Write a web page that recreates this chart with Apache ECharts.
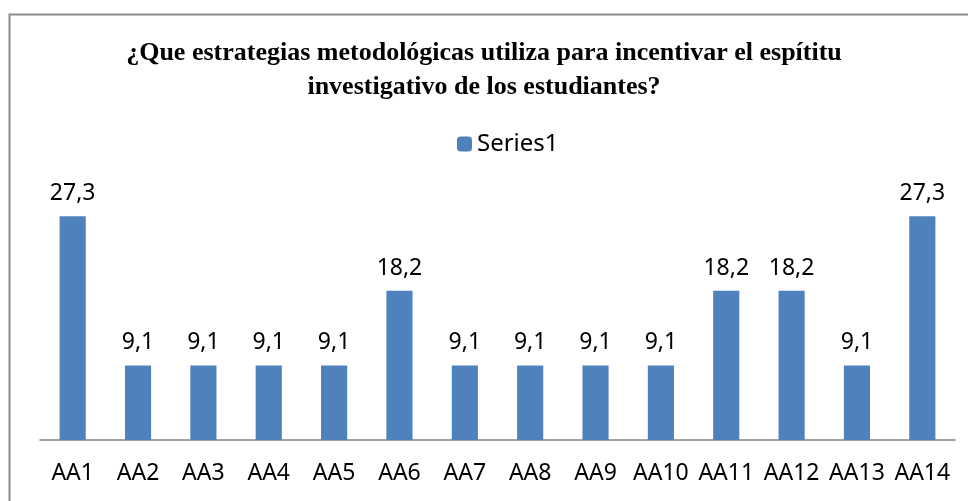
<!DOCTYPE html>
<html>
<head>
<meta charset="utf-8">
<script src="https://cdn.jsdelivr.net/npm/echarts@6/dist/echarts.min.js"></script>
<style>
  html, body { margin: 0; padding: 0; background: #fff; }
  #chart { width: 968px; height: 501px; }
</style>
</head>
<body>
<div id="chart"></div>
<script>
// datos
const categories = ['AA1', 'AA2', 'AA3', 'AA4', 'AA5', 'AA6', 'AA7', 'AA8', 'AA9', 'AA10', 'AA11', 'AA12', 'AA13', 'AA14'];
const series1 = [27.3, 9.1, 9.1, 9.1, 9.1, 18.2, 9.1, 9.1, 9.1, 9.1, 18.2, 18.2, 9.1, 27.3];
const seriesName = 'Series1';
const titleText = '¿Que estrategias metodológicas utiliza para incentivar el espítitu\ninvestigativo de los estudiantes?';

const chart = echarts.init(document.getElementById('chart'));

const option = {
  animation: false,
  title: {
    text: titleText,
    left: 'center',
    top: 31,
    textStyle: {
      fontFamily: 'Liberation Serif',
      fontWeight: 'bold',
      fontSize: 26,
      lineHeight: 34,
      color: '#000'
    }
  },
  legend: {
    data: [seriesName],
    top: 127,
    left: 452,
    itemWidth: 15,
    itemHeight: 15,
    itemGap: 8,
    textStyle: { fontFamily: 'Noto Sans', fontSize: 24, color: '#000' }
  },
  grid: { left: 40, right: 13, top: 194, bottom: 61 },
  xAxis: {
    type: 'category',
    data: categories,
    axisLine: { lineStyle: { color: '#868686', width: 1.5 } },
    axisTick: { show: false },
    axisLabel: {
      interval: 0,
      margin: 22,
      fontFamily: 'Noto Sans',
      fontSize: 23,
      color: '#000'
    }
  },
  yAxis: {
    type: 'value',
    min: 0,
    max: 30,
    show: false,
    splitLine: { show: false }
  },
  series: [{
    name: seriesName,
    type: 'bar',
    data: series1,
    barWidth: '40%',
    itemStyle: { color: '#4F81BD' },
    label: {
      show: true,
      position: 'top',
      distance: 11,
      fontFamily: 'Noto Sans',
      fontSize: 23,
      color: '#000',
      formatter: p => String(p.value).replace('.', ',')
    }
  }],
  graphic: [{
    type: 'rect',
    shape: { x: 9.5, y: 14.5, width: 1000, height: 600 },
    style: { fill: 'none', stroke: '#8c8c8c', lineWidth: 2 },
    silent: true
  }]
};

chart.setOption(option);
</script>
</body>
</html>
